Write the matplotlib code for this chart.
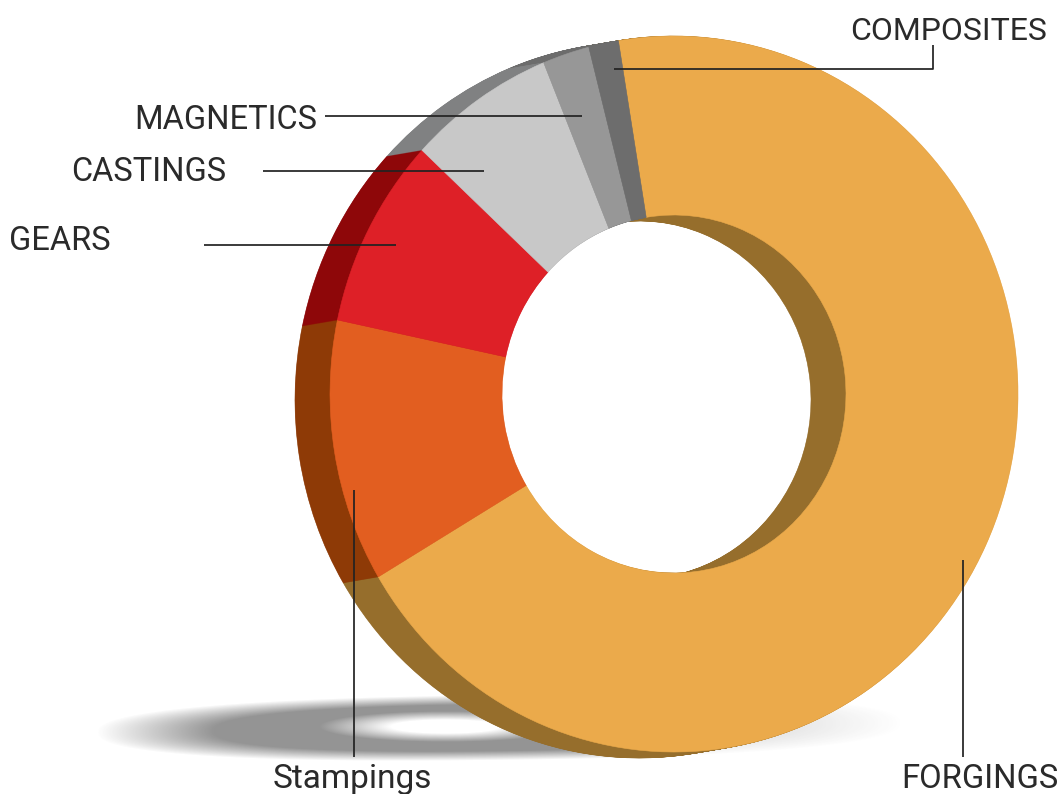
import numpy as np
import matplotlib
matplotlib.use("Agg")
import matplotlib.pyplot as plt
from matplotlib.patches import Wedge
from matplotlib.transforms import Affine2D

# Share of each segment, percent, clockwise from the start angle
segments = ["FORGINGS", "Stampings", "GEARS", "CASTINGS", "MAGNETICS", "COMPOSITES"]
shares = [69.05, 11.85, 8.6, 6.9, 2.2, 1.4]
face_colors = ["#EBAA4B", "#E25E20", "#DE2027", "#C8C8C8", "#979797", "#6D6D6D"]
side_colors = ["#966E2C", "#8E3A06", "#8E0709", "#808182", "#6C6C6C", "#6C6C6C"]

W, H = 1062, 794
fig = plt.figure(figsize=(W / 100, H / 100), dpi=100, facecolor="white")
ax = fig.add_axes([0, 0, 1, 1])
ax.set_xlim(0, W)
ax.set_ylim(H, 0)
ax.axis("off")

# Soft ground shadow: a blurred tilted ring, dark on the left and pale on the right
yy, xx = np.mgrid[680:770, 90:930]
def soft_ellipse(cx, cy, rx, ry, edge, tilt=0.0, power=2.0):
    y = yy - cy + tilt * (xx - cx)
    d = (np.abs((xx - cx) / rx) ** power + np.abs(y / ry) ** power) ** (1 / power)
    return np.clip((1 - d) / edge + 0.5, 0, 1)
ring = (soft_ellipse(500, 727, 345, 28, 0.34, 0.012, 2.4)
        * (1 - soft_ellipse(445, 726, 90, 11, 0.8)))
fade = np.interp(xx, [90, 580, 720, 930], [0.56, 0.56, 0.14, 0.12])
shadow = np.zeros(xx.shape + (4,))
shadow[..., :3] = 0.25
shadow[..., 3] = ring * fade
ax.imshow(shadow, extent=(90, 930, 770, 680), zorder=1, aspect="auto", interpolation="bilinear")
ax.set_xlim(0, W)
ax.set_ylim(H, 0)

# Elliptical donut, drawn as a stack of layers to give it thickness
cx, cy, rx, ry = 674, 394, 344, 358
depth_x, depth_y = -35, 6
start_angle = -9.3
hole_ratio = 0.5

edges = start_angle + np.concatenate([[0], np.cumsum(shares)]) * 3.6 / (sum(shares) / 100)

def add_layer(colors, shift, zorder):
    tr = (Affine2D().scale(rx, -ry)
          .translate(cx + depth_x * shift, cy + depth_y * shift) + ax.transData)
    for a0, a1, col in zip(edges[:-1], edges[1:], colors):
        ax.add_patch(Wedge((0, 0), 1, 90 - a1, 90 - a0, width=1 - hole_ratio,
                           facecolor=col, edgecolor=col, linewidth=0.4,
                           transform=tr, zorder=zorder))

for s in np.linspace(1, 0, 60)[:-1]:
    add_layer(side_colors, s, 2)
add_layer(face_colors, 0, 3)

# Leader lines
leaders = [
    ([614, 933, 933], [69, 69, 45]),
    ([325, 582], [116, 116]),
    ([263, 484], [171, 171]),
    ([204, 396], [245, 245]),
    ([354, 354], [490, 757]),
    ([963, 963], [560, 757]),
]
for xs, ys in leaders:
    ax.plot(xs, ys, color="#222222", lw=1.25, zorder=5, solid_capstyle="butt")

# Labels
labels = [
    ("COMPOSITES", 850, 40, 23.0),
    ("MAGNETICS", 134, 129, 23.5),
    ("CASTINGS", 71, 181, 23.5),
    ("GEARS", 9, 250, 23.5),
    ("Stampings", 273, 788, 24.0),
    ("FORGINGS", 901, 788, 23.6),
]
for text, x, y, size in labels:
    ax.text(x, y, text, fontsize=size, family="Roboto", fontweight="regular",
            color="#2A2A2A", ha="left", va="baseline", zorder=6)

fig.savefig("out.png", dpi=100, facecolor="white")
